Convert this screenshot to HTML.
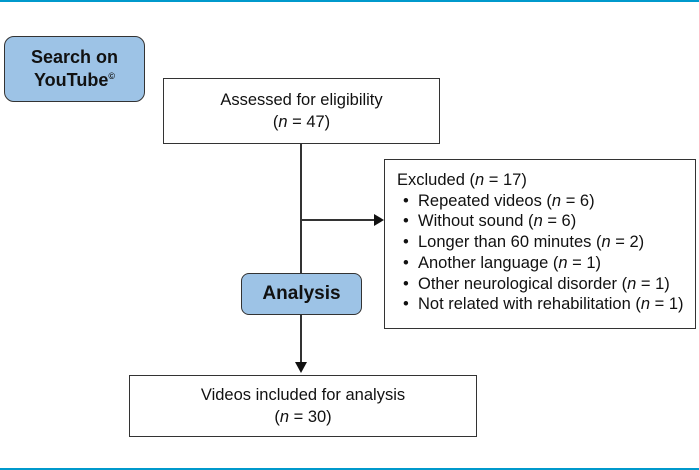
<!DOCTYPE html>
<html><head><style>
body{margin:0;width:699px;height:470px;background:#fff;position:relative;overflow:hidden;font-family:"Liberation Sans",sans-serif;color:#111}
.a{position:absolute;box-sizing:border-box}
.box{border:1.5px solid #333;background:#fff;text-align:center;font-size:16.5px;line-height:22px}
.blue{background:#9dc3e6;border:1.5px solid #333;border-radius:10px;font-weight:bold;text-align:center}
i{font-style:italic}
sup{line-height:0}
ul{margin:0;padding:0;list-style:none}
li{position:relative;padding-left:21px;}
li:before{content:"•";position:absolute;left:6px}
</style></head><body>
<div class="a" style="left:0;top:0;width:699px;height:2px;background:#0099cc"></div>
<div class="a" style="left:0;top:468px;width:699px;height:2px;background:#0099cc"></div>
<div class="a blue" style="left:4px;top:36px;width:141px;height:66px;font-size:18px;line-height:23px;padding-top:9px">Search on<br>YouTube<sup style="font-size:9px">©</sup></div>
<div class="a box" style="left:163px;top:78px;width:277px;height:66px;padding-top:10px">Assessed for eligibility<br>(<i>n</i> = 47)</div>
<div class="a" style="left:300px;top:144px;width:1.5px;height:220px;background:#333"></div>
<div class="a" style="left:301px;top:219px;width:76px;height:1.5px;background:#333"></div>
<svg class="a" style="left:374px;top:214px" width="11" height="12"><polygon points="0,0 10,6 0,12" fill="#111"/></svg>
<svg class="a" style="left:295px;top:362px" width="12" height="12"><polygon points="0,0 12,0 6,11" fill="#111"/></svg>
<div class="a box" style="left:384px;top:159px;width:312px;height:170px;text-align:left;padding:10px 0 0 12px;font-size:16.5px;line-height:20.7px">Excluded (<i>n</i> = 17)
<ul><li>Repeated videos (<i>n</i> = 6)</li><li>Without sound (<i>n</i> = 6)</li><li>Longer than 60 minutes (<i>n</i> = 2)</li><li>Another language (<i>n</i> = 1)</li><li>Other neurological disorder (<i>n</i> = 1)</li><li>Not related with rehabilitation (<i>n</i> = 1)</li></ul></div>
<div class="a blue" style="left:241px;top:273px;width:121px;height:42px;font-size:19px;line-height:39px;border-radius:8px">Analysis</div>
<div class="a box" style="left:129px;top:375px;width:348px;height:62px;padding-top:8px">Videos included for analysis<br>(<i>n</i> = 30)</div>
</body></html>
